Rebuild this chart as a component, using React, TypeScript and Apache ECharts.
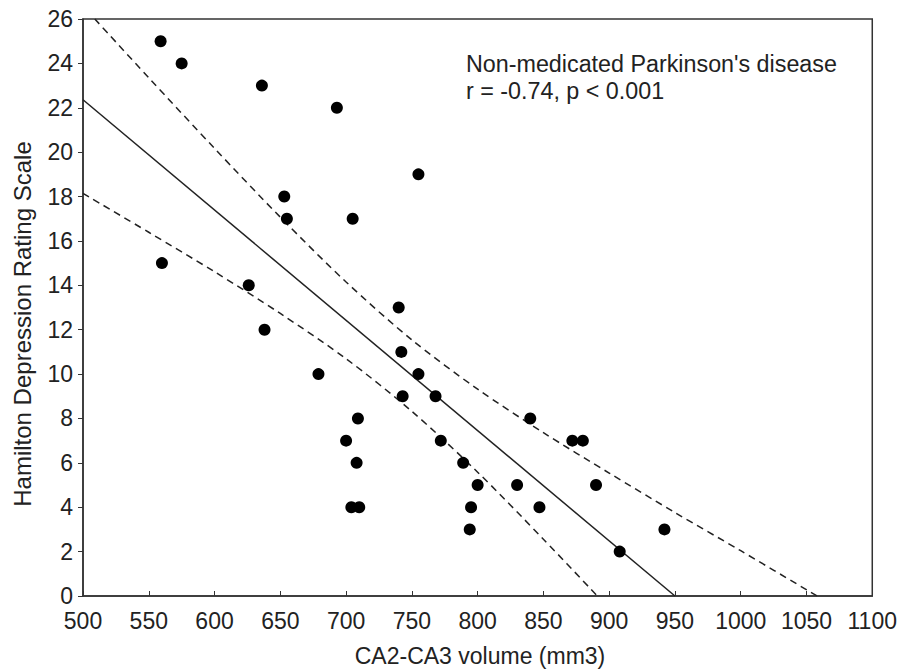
import React, { useEffect, useRef } from "react";
import * as echarts from "echarts";

const volumes = [559, 575, 636, 693, 755, 653, 655, 705, 560, 626, 740, 638, 742, 679, 755, 743, 768, 709, 840, 700, 772, 872, 880, 708, 789, 800, 830, 890, 704, 710, 795, 847, 794, 942, 908];
const hamd = [25, 24, 23, 22, 19, 18, 17, 17, 15, 14, 13, 12, 11, 10, 10, 9, 9, 8, 8, 7, 7, 7, 7, 6, 6, 5, 5, 5, 4, 4, 4, 4, 3, 3, 2];

const fitX = [500, 950];
const fitY = [22.36, 0];

const upperX = [509, 550, 600, 650, 700, 750, 800, 850, 900, 950, 1000, 1058];
const upperY = [26.0, 23.35, 20.17, 17.07, 14.15, 11.54, 9.32, 7.36, 5.54, 3.76, 2.04, 0];

const lowerX = [500, 550, 600, 650, 700, 750, 800, 850, 891];
const lowerY = [18.14, 16.39, 14.61, 12.73, 10.69, 8.32, 5.58, 2.56, 0];

const xTitle = "CA2-CA3 volume (mm3)";
const yTitle = "Hamilton Depression Rating Scale";
const noteLine1 = "Non-medicated Parkinson's disease";
const noteLine2 = "r = -0.74, p < 0.001";

const FONT = "'Liberation Sans', Arial, sans-serif";

export default function App() {
  const ref = useRef<HTMLDivElement>(null);
  useEffect(() => {
    if (!ref.current) return;
    const chart = echarts.init(ref.current, null, { renderer: "svg" });
    const zip = (a: number[], b: number[]) => a.map((v, i) => [v, b[i]]);
    chart.setOption({
      animation: false,
      backgroundColor: "#ffffff",
      textStyle: { fontFamily: FONT },
      grid: {
        left: 83,
        right: 27,
        top: 19,
        bottom: 75,
        show: true,
        borderColor: "#333",
        borderWidth: 1.5,
        backgroundColor: "transparent",
      },
      xAxis: {
        type: "value",
        min: 500,
        max: 1100,
        interval: 50,
        axisLine: { show: true, lineStyle: { color: "#333", width: 1.5 } },
        axisTick: { show: true, inside: true, length: 5, lineStyle: { color: "#333", width: 1 } },
        splitLine: { show: false },
        axisLabel: { fontSize: 23, color: "#222", margin: 13, fontFamily: FONT, formatter: (v: number) => String(v) },
      },
      yAxis: {
        type: "value",
        min: 0,
        max: 26,
        interval: 2,
        axisLine: { show: true, lineStyle: { color: "#333", width: 1.5 } },
        axisTick: { show: true, inside: false, length: 5, lineStyle: { color: "#333", width: 1 } },
        splitLine: { show: false },
        axisLabel: { fontSize: 23, color: "#222", margin: 10, fontFamily: FONT, formatter: (v: number) => String(v) },
      },
      graphic: [
        {
          type: "text",
          x: 480,
          y: 656,
          style: { text: xTitle, font: `23px ${FONT}`, fill: "#222", textAlign: "center", textVerticalAlign: "middle" },
        },
        {
          type: "text",
          x: 22,
          y: 324,
          rotation: Math.PI / 2,
          style: { text: yTitle, font: `24px ${FONT}`, fill: "#222", textAlign: "center", textVerticalAlign: "middle" },
        },
        {
          type: "text",
          x: 466,
          y: 64,
          style: { text: noteLine1, font: `23.3px ${FONT}`, fill: "#222", textAlign: "left", textVerticalAlign: "middle" },
        },
        {
          type: "text",
          x: 466,
          y: 91,
          style: { text: noteLine2, font: `23.3px ${FONT}`, fill: "#222", textAlign: "left", textVerticalAlign: "middle" },
        },
      ],
      series: [
        {
          type: "line",
          data: zip(upperX, upperY),
          smooth: 0.3,
          showSymbol: false,
          clip: true,
          lineStyle: { color: "#222", width: 1.5, type: [7, 5] },
          z: 2,
        },
        {
          type: "line",
          data: zip(lowerX, lowerY),
          smooth: 0.3,
          showSymbol: false,
          clip: true,
          lineStyle: { color: "#222", width: 1.5, type: [7, 5] },
          z: 2,
        },
        {
          type: "line",
          data: zip(fitX, fitY),
          showSymbol: false,
          clip: true,
          lineStyle: { color: "#222", width: 1.5 },
          z: 3,
        },
        {
          type: "scatter",
          data: zip(volumes, hamd),
          symbol: "circle",
          symbolSize: 12,
          itemStyle: { color: "#000", opacity: 1 },
          z: 4,
        },
      ],
    });
    return () => chart.dispose();
  }, []);
  return <div ref={ref} style={{ position: "fixed", left: 0, top: 0, width: 900, height: 671 }} />;
}
